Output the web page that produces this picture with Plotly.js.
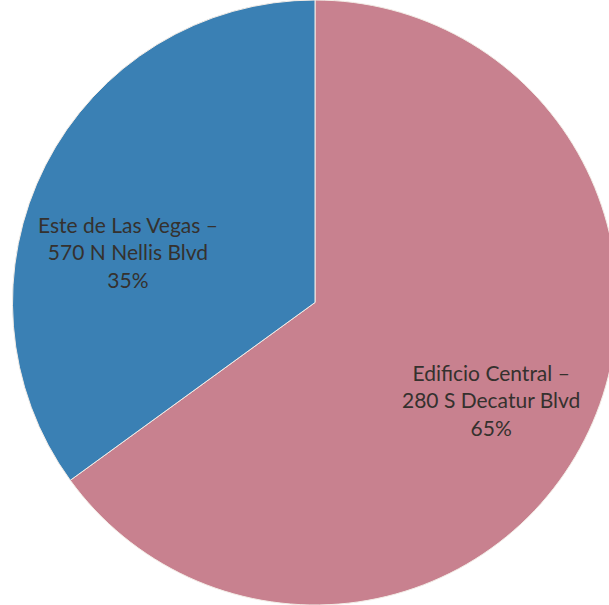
<!DOCTYPE html>
<html>
<head>
<meta charset="utf-8">
<script src="https://cdn.plot.ly/plotly-3.0.1.min.js"></script>
<style>html,body{margin:0;padding:0;overflow:hidden;background:#fff;}</style>
</head>
<body>
<div id="chart"></div>
<script>
const labels = ["Edificio Central –<br>280 S Decatur Blvd", "Este de Las Vegas –<br>570 N Nellis Blvd"];
const values = [65, 35];
const colors = ["#C8818F", "#3A80B4"];
// label anchor positions (paper fractions)
const labelX = [0.786, 0.205];
const labelY = [0.339, 0.584];

const W = 625, H = 605;
const total = values.reduce((a, b) => a + b, 0);
const annotations = labels.map((l, i) => ({
  text: l + "<br>" + Math.round(values[i] / total * 100) + "%",
  x: labelX[i], y: labelY[i], xref: "paper", yref: "paper",
  xanchor: "center", yanchor: "middle", showarrow: false, align: "center",
  font: {family: "Lato, 'Open Sans', sans-serif", size: 21, color: "#35312e"}
}));

Plotly.newPlot("chart", [{
  type: "pie",
  labels: labels,
  values: values,
  sort: false,
  direction: "clockwise",
  rotation: 0,
  marker: {colors: colors, line: {color: "#f3ece6", width: 1}},
  textinfo: "none",
  hoverinfo: "none",
  domain: {x: [8 / W, 622 / W], y: [0, 1]}
}], {
  width: W, height: H,
  margin: {l: 0, r: 0, t: 0, b: 0},
  showlegend: false,
  annotations: annotations,
  paper_bgcolor: "#ffffff"
}, {displayModeBar: false, staticPlot: true});
</script>
</body>
</html>
